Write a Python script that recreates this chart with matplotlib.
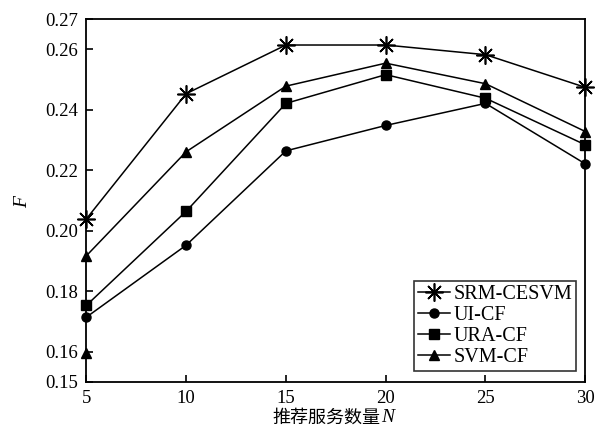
import matplotlib
matplotlib.use("Agg")
import matplotlib.pyplot as plt
from matplotlib.offsetbox import TextArea, HPacker, AnnotationBbox

plt.rcParams['font.family'] = ['Liberation Serif', 'Noto Sans CJK SC']
plt.rcParams['mathtext.fontset'] = 'custom'
plt.rcParams['mathtext.rm'] = 'Liberation Serif'
plt.rcParams['mathtext.it'] = 'Liberation Serif:italic'

N = [5, 10, 15, 20, 25, 30]
srm_cesvm = [0.2039, 0.2453, 0.2614, 0.2614, 0.2582, 0.2474]
ui_cf = [0.1714, 0.1952, 0.2264, 0.2348, 0.2421, 0.2221]
ura_cf = [0.1753, 0.2064, 0.2421, 0.2516, 0.2438, 0.2284]
svm_cf = [0.1917, 0.2261, 0.2478, 0.2554, 0.2486, 0.2328]
svm_extra_x = [5]
svm_extra_y = [0.1594]

yticks = [0.15, 0.16, 0.18, 0.20, 0.22, 0.24, 0.26, 0.27]
xticks = [5, 10, 15, 20, 25, 30]
xlabel_cn = '推荐服务数量'
xlabel_var = 'N'

fig = plt.figure(figsize=(6.04, 4.32), dpi=100)
ax = fig.add_axes([0.143, 0.116, 0.826, 0.84])

star = (8, 2, 0)
kw = dict(color='black', lw=1.1, clip_on=False, zorder=3)
ax.plot(N, srm_cesvm, marker=star, markersize=13, markeredgewidth=1.2, label='SRM-CESVM', **kw)
ax.plot(N, ui_cf, marker='o', markersize=6.5, label='UI-CF', **kw)
ax.plot(N, ura_cf, marker='s', markersize=6.5, label='URA-CF', **kw)
ax.plot(N, svm_cf, marker='^', markersize=7.5, label='SVM-CF', **kw)
ax.plot(svm_extra_x, svm_extra_y, marker='^', markersize=7.5, color='black',
        linestyle='none', clip_on=False, zorder=3)

ax.set_xlim(5, 30)
ax.set_ylim(0.15, 0.27)
ax.set_xticks(xticks)
ax.set_xticklabels([str(v) for v in xticks])
ax.set_yticks(yticks)
ax.set_yticklabels(['%.2f' % v for v in yticks])
ax.tick_params(direction='in', length=5, width=1.2, labelsize=13.5, colors='black',
               top=False, right=False, pad=6)
for s in ax.spines.values():
    s.set_linewidth(1.3)

ax.set_ylabel('$F$', fontsize=14, labelpad=10)

ta_cn = TextArea(xlabel_cn, textprops=dict(family='Noto Sans CJK SC', size=13))
ta_n = TextArea(xlabel_var, textprops=dict(family='Liberation Serif', style='italic', size=14))
pack = HPacker(children=[ta_cn, ta_n], align='baseline', pad=0, sep=0)
ab = AnnotationBbox(pack, (0.495, -0.098), xycoords='axes fraction', frameon=False,
                    box_alignment=(0.5, 0.5), annotation_clip=False)
ax.add_artist(ab)

leg = ax.legend(loc='lower right', bbox_to_anchor=(0.982, 0.030), fontsize=14.5,
                frameon=True, fancybox=False, edgecolor='black', handlelength=1.6,
                handletextpad=0.15, borderpad=0.2, labelspacing=0.1, borderaxespad=0)
leg.get_frame().set_linewidth(1.2)

fig.savefig('out.png', dpi=100)
